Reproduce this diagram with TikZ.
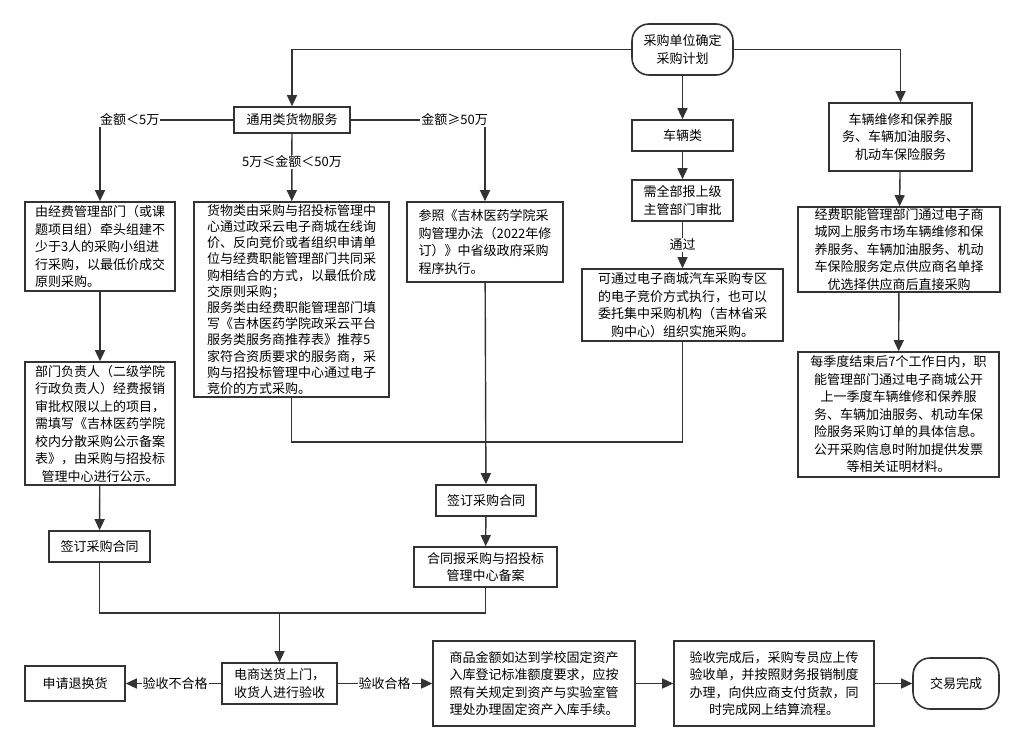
\documentclass[tikz,border=0pt]{standalone}
\usepackage{fontspec}
\usepackage{tikz}
\usetikzlibrary{arrows.meta}
\newfontfamily\zh{Noto Sans CJK SC}
\definecolor{linec}{RGB}{51,51,51}

\tikzset{
  box/.style={draw=linec,line width=1.6pt,fill=white,inner sep=0pt,align=center,
    font=\zh\fontsize{13}{17.5}\selectfont},
  term/.style={box,rounded corners=17pt},
  lbl/.style={fill=white,inner sep=1pt,font=\zh\fontsize{13}{15}\selectfont},
  flow/.style={draw=linec,line width=1.4pt,-{Triangle[length=11pt,width=10pt]}},
  link/.style={draw=linec,line width=1.4pt},
}

\begin{document}
\begin{tikzpicture}[x=1pt,y=-1pt]
\useasboundingbox (0,0) rectangle (1024,751);
% top
\node[term,minimum width=101pt,minimum height=51pt] (start) at (682.5,49.5) {采购单位确定\\采购计划};
\node[box,minimum width=116pt,minimum height=26pt] (g) at (292,120) {通用类货物服务};
\node[box,minimum width=101pt,minimum height=31pt] (v1) at (682.5,135.5) {车辆类};
\node[box,minimum width=101pt,minimum height=41pt] (v2) at (682.5,200.5) {需全部报上级\\主管部门审批};
\node[box,minimum width=201pt,minimum height=72pt] (v3) at (682.5,305) {可通过电子商城汽车采购专区\\的电子竞价方式执行，也可以\\委托集中采购机构（吉林省采\\购中心）组织实施采购。};
\node[box,minimum width=143pt,minimum height=68pt] (r1) at (900.5,137) {车辆维修和保养服\\务、车辆加油服务、\\机动车保险服务};
\node[box,minimum width=202pt,minimum height=85pt] (r2) at (899,249.5) {经费职能管理部门通过电子商\\城网上服务市场车辆维修和保\\养服务、车辆加油服务、机动\\车保险服务定点供应商名单择\\优选择供应商后直接采购};
\node[box,minimum width=201pt,minimum height=125pt] (r3) at (898.5,414.5) {每季度结束后7个工作日内，职\\能管理部门通过电子商城公开\\上一季度车辆维修和保养服\\务、车辆加油服务、机动车保\\险服务采购订单的具体信息。\\公开采购信息时附加提供发票\\等相关证明材料。};
% left column
\node[box,align=left,minimum width=150pt,minimum height=89pt] (a1) at (100,246.5) {由经费管理部门（或课\\题项目组）牵头组建不\\少于3人的采购小组进\\行采购，以最低价成交\\原则采购。};
\node[box,minimum width=150pt,minimum height=123pt] (a2) at (100,423.5) {部门负责人（二级学院\\行政负责人）经费报销\\审批权限以上的项目，\\需填写《吉林医药学院\\校内分散采购公示备案\\表》，由采购与招投标\\管理中心进行公示。};
\node[box,minimum width=101pt,minimum height=31pt] (a3) at (99.5,546.5) {签订采购合同};
% middle
\node[box,align=left,font=\zh\fontsize{13}{16.2}\selectfont,minimum width=195pt,minimum height=195pt] (m1) at (291.5,299.5) {货物类由采购与招投标管理中\\心通过政采云电子商城在线询\\价、反向竞价或者组织申请单\\位与经费职能管理部门共同采\\购相结合的方式，以最低价成\\交原则采购；\\服务类由经费职能管理部门填\\写《吉林医药学院政采云平台\\服务类服务商推荐表》推荐5\\家符合资质要求的服务商，采\\购与招投标管理中心通过电子\\竞价的方式采购。};
\node[box,align=left,minimum width=156pt,minimum height=80pt] (m2) at (485,242) {参照《吉林医药学院采\\购管理办法（2022年修\\订）》中省级政府采购\\程序执行。};
\node[box,minimum width=100pt,minimum height=31pt] (m3) at (486,500.5) {签订采购合同};
\node[box,minimum width=143pt,minimum height=40pt] (m4) at (485.5,567) {合同报采购与招投标\\管理中心备案};
% bottom row
\node[box,minimum width=100pt,minimum height=35pt] (b1) at (75,683.5) {申请退换货};
\node[box,minimum width=115pt,minimum height=41pt] (b2) at (279.5,683.5) {电商送货上门，\\收货人进行验收};
\node[box,minimum width=202pt,minimum height=85pt] (b3) at (534,683.5) {商品金额如达到学校固定资产\\入库登记标准额度要求，应按\\照有关规定到资产与实验室管\\理处办理固定资产入库手续。};
\node[box,minimum width=200pt,minimum height=85pt] (b4) at (774,683.5) {验收完成后，采购专员应上传\\验收单，并按照财务报销制度\\办理，向供应商支付货款，同\\时完成网上结算流程。};
\node[term,minimum width=86pt,minimum height=51pt] (b5) at (956,683.5) {交易完成};
\coordinate (j1) at (486,442);
\coordinate (j2) at (279.5,613);
% connectors
\draw[flow] (start.west) -| (g.north);
\draw[flow] (start) -- (v1);
\draw[flow] (start.east) -| (r1.north);
\draw[flow] (g.west) -| (a1.north);
\draw[flow] (g.east) -| (m2.north);
\draw[flow] (g) -- (m1);
\draw[flow] (v1) -- (v2);
\draw[flow] (v2) -- (v3);
\draw[flow] (r1) -- (r2);
\draw[flow] (r2) -- (r3);
\draw[flow] (a1) -- (a2);
\draw[flow] (a2) -- (a3);
\draw[link] (m1.south) |- (j1) -| (v3.south);
\draw[flow] (m2) -- (m3);
\draw[flow] (m3) -- (m4);
\draw[link] (a3.south) |- (j2) -| (m4.south);
\draw[flow] (j2) -- (b2.north);
\draw[flow] (b2) -- (b1);
\draw[flow] (b2) -- (b3);
\draw[flow] (b3) -- (b4);
\draw[flow] (b4) -- (b5);
% labels
\node[lbl,anchor=west] (l1) at (99,120) {金额＜5万};
\node[lbl,anchor=east] (l2) at (489,120) {金额≥50万};
\node[lbl] (l3) at (292,162) {5万≤金额＜50万};
\node[lbl] (l4) at (682.5,245) {通过};
\node[lbl] (l5) at (175,683.5) {验收不合格};
\node[lbl] (l6) at (384.5,683.5) {验收合格};
\end{tikzpicture}
\end{document}
